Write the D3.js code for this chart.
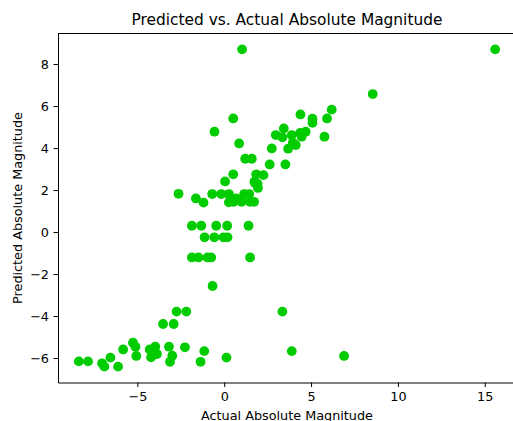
<!DOCTYPE html>
<html>
<head>
<meta charset="utf-8">
<script src="https://cdn.jsdelivr.net/npm/d3@7"></script>
<style>
  body { margin: 0; background: #fff; }
  svg { display: block; font-family: "DejaVu Sans", sans-serif; }
</style>
</head>
<body>
<div id="chart"></div>
<script>
// Actual vs predicted absolute magnitude
var actualMag = [
    1.03, 15.6, 8.55, -0.56, 0.52, 4.39, 6.19, 5.92, 5.08, 5.08,
    3.43, 2.97, 3.35, 3.89, 4.37, 4.69, 4.46, 4.12, 3.95, 3.68,
    5.77, 0.86, 2.74, 1.21, 1.59, 2.62, 3.52, 0.52, 1.84, 2.26,
    0.05, 1.74, 1.92, 1.94, -2.63, -1.63, -1.19, -0.69, -0.17, 0.27,
    0.27, 0.69, 1.15, 1.44, 1.49, 1.72, 0.54, 1.0, -1.86, -1.32,
    -0.46, 0.17, 1.40, -1.13, -0.57, -0.04, 0.19, -1.86, -1.48, -0.96,
    -0.75, 1.49, -0.67, -2.74, -2.18, -3.52, -2.91, -8.37, -7.84, -7.03,
    -6.9, -6.55, -6.11, -5.82, -5.25, -5.11, -5.06, -4.29, -3.97, -4.21,
    -3.87, -4.06, -3.18, -2.99, -3.12, -2.26, -1.15, -1.36, 0.13, 3.35,
    3.89, 6.9, 1.78
];
var predictedMag = [
    8.7, 8.7, 6.57, 4.78, 5.41, 5.6, 5.83, 5.41, 5.4, 5.2,
    4.93, 4.62, 4.51, 4.62, 4.72, 4.78, 4.54, 4.14, 4.25, 3.97,
    4.54, 4.22, 3.98, 3.49, 3.49, 3.22, 3.22, 2.75, 2.75, 2.71,
    2.41, 2.40, 2.30, 2.10, 1.82, 1.60, 1.40, 1.81, 1.81, 1.81,
    1.42, 1.60, 1.81, 1.81, 1.44, 1.44, 1.44, 1.44, 0.30, 0.30,
    0.30, 0.30, 0.30, -0.25, -0.25, -0.25, -0.25, -1.21, -1.21, -1.21,
    -1.21, -1.21, -2.57, -3.79, -3.79, -4.38, -4.38, -6.16, -6.16, -6.25,
    -6.41, -5.98, -6.41, -5.59, -5.27, -5.46, -5.9, -5.59, -5.46, -5.97,
    -5.81, -5.7, -5.46, -5.89, -6.18, -5.49, -5.67, -6.18, -5.98, -3.79,
    -5.67, -5.9, 2.32
];
var xTicks = [-5, 0, 5, 10, 15];
var yTicks = [-6, -4, -2, 0, 2, 4, 6, 8];

function createScatter() {
    var W = 513, H = 421;
    var margin = { top: 33.5, right: -3, bottom: 38.5, left: 58 };
    var width = W - margin.left - margin.right;
    var height = H - margin.top - margin.bottom;

    var svg = d3.select("#chart")
        .html("")
        .append("svg")
        .attr("width", W)
        .attr("height", H);

    var g = svg.append("g")
        .attr("transform", "translate(" + margin.left + "," + margin.top + ")");

    // matplotlib-style 5% margins around the data
    var xMin = d3.min(actualMag), xMax = d3.max(actualMag);
    var yMin = d3.min(predictedMag), yMax = d3.max(predictedMag);
    var xPad = (xMax - xMin) * 0.05, yPad = (yMax - yMin) * 0.05;

    var xScale = d3.scaleLinear()
        .domain([xMin - xPad, xMax + xPad])
        .range([0, width]);

    var yScale = d3.scaleLinear()
        .domain([yMin - yPad, yMax + yPad])
        .range([height, 0]);

    var xAxis = d3.axisBottom(xScale)
        .tickValues(xTicks)
        .tickSize(4.5)
        .tickPadding(4.5)
        .tickSizeOuter(0);

    var yAxis = d3.axisLeft(yScale)
        .tickValues(yTicks)
        .tickSize(4.5)
        .tickPadding(4.5)
        .tickSizeOuter(0);

    var points = d3.range(actualMag.length);

    g.selectAll(".dot")
        .data(points)
        .enter().append("circle")
        .attr("class", "dot")
        .attr("cx", function (i) { return xScale(actualMag[i]); })
        .attr("cy", function (i) { return yScale(predictedMag[i]); })
        .attr("r", 4.9)
        .attr("fill", "#00cc00");

    var xg = g.append("g")
        .attr("transform", "translate(0," + height + ")")
        .call(xAxis);

    var yg = g.append("g")
        .call(yAxis);

    [xg, yg].forEach(function (ax) {
        ax.select(".domain").attr("stroke-width", 1);
        ax.selectAll(".tick line").attr("stroke-width", 1);
        ax.selectAll(".tick text")
            .attr("font-size", "12.8px")
            .attr("font-family", "DejaVu Sans")
            .attr("fill", "#000");
    });

    // top and right spines
    g.append("line")
        .attr("x1", 0).attr("x2", width)
        .attr("y1", 0).attr("y2", 0)
        .attr("stroke", "#000").attr("stroke-width", 1);
    g.append("line")
        .attr("x1", width).attr("x2", width)
        .attr("y1", 0).attr("y2", height)
        .attr("stroke", "#000").attr("stroke-width", 1);

    svg.append("text")
        .attr("x", margin.left + width / 2)
        .attr("y", 25)
        .attr("text-anchor", "middle")
        .attr("font-size", "15.4px")
        .text("Predicted vs. Actual Absolute Magnitude");

    svg.append("text")
        .attr("x", margin.left + width / 2)
        .attr("y", 419.5)
        .attr("text-anchor", "middle")
        .attr("font-size", "12.8px")
        .text("Actual Absolute Magnitude");

    svg.append("text")
        .attr("transform", "translate(21.5," + (margin.top + height / 2) + ") rotate(-90)")
        .attr("text-anchor", "middle")
        .attr("font-size", "12.8px")
        .text("Predicted Absolute Magnitude");
}

createScatter();
</script>
</body>
</html>
